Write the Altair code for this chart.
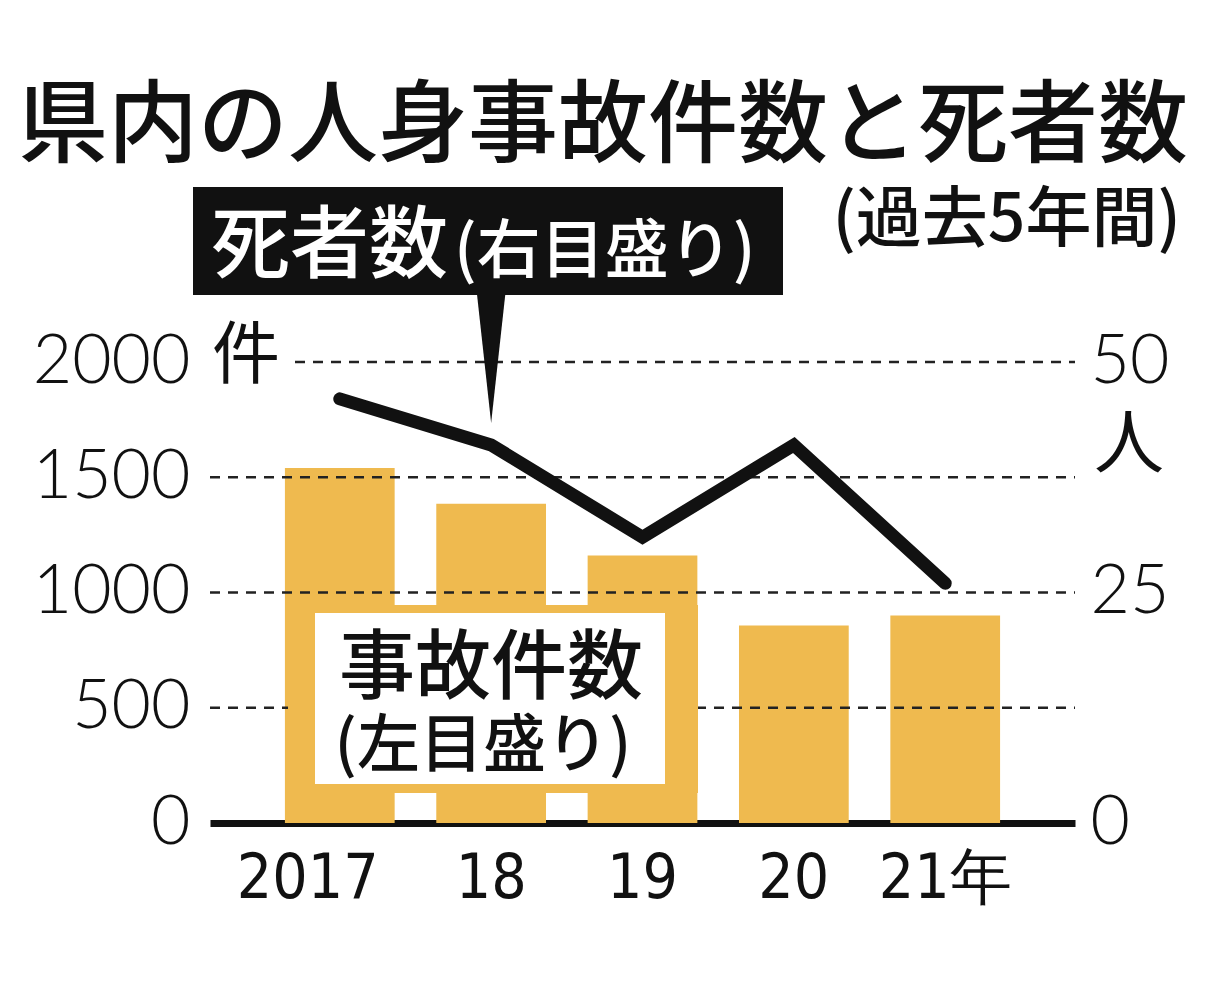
import altair as alt
import pandas as pd

# 県内の人身事故件数 (bars, left scale) and 死者数 (line, right scale)
years = ["2017", "18", "19", "20", "21年"]
accidents = [1540, 1385, 1160, 857, 900]
deaths = [46, 41, 31, 41, 26]
left_ticks = [0, 500, 1000, 1500, 2000]
right_ticks = [0, 25, 50]

df = pd.DataFrame({"year": years, "accidents": accidents, "deaths": deaths})

W, H = 865, 461
BAR = "#EFBA4F"
INK = "#111111"
JP = "Noto Sans CJK JP"
NUM = "Lato"
one = pd.DataFrame({"k": [0]})

x = alt.X("year:N", sort=None, title=None,
          scale=alt.Scale(paddingInner=0.275, paddingOuter=0.495),
          axis=alt.Axis(labelFont="DejaVu Sans Condensed, Liberation Sans", labelFontSize=62, labelColor=INK,
                        labelAngle=0, labelPadding=25, labelBaseline="top", ticks=False,
                        domainColor=INK, domainWidth=7,
                        labelOffset={"condition": {"test": "datum.value === '2017'", "value": -32}, "value": 0}))

left_scale = alt.Scale(domain=[0, 2000], nice=False)
left_axis = alt.Axis(values=left_ticks, format="d", grid=False, domain=False, ticks=False,
                     labelFont=NUM, labelFontWeight=300, labelFontSize=68, labelColor=INK,
                     labelPadding=20, labelFlush=False, labelOverlap=False, labelBound=False)

bars = alt.Chart(df).mark_bar(color=BAR).encode(
    x=x,
    y=alt.Y("accidents:Q", scale=left_scale, title=None, axis=left_axis),
)

dash = dict(color="#222222", strokeWidth=2.5, strokeDash=[10, 8])
grid = alt.Chart(pd.DataFrame({"accidents": left_ticks[1:-1]})).mark_rule(**dash).encode(
    y=alt.Y("accidents:Q", scale=left_scale, title=None, axis=left_axis),
    x=alt.value(0), x2=alt.value(W))
grid_top = alt.Chart(pd.DataFrame({"accidents": left_ticks[-1:]})).mark_rule(**dash).encode(
    y=alt.Y("accidents:Q", scale=left_scale, title=None, axis=left_axis),
    x=alt.value(85), x2=alt.value(W))

unit_left = alt.Chart(one).mark_text(text="件", font=JP, fontSize=68, color=INK,
                                     align="left", baseline="alphabetic").encode(
    x=alt.value(2), y=alt.value(16))

frame = alt.Chart(one).mark_rect(color=BAR).encode(
    x=alt.value(78), x2=alt.value(488), y=alt.value(243), y2=alt.value(431))
white_box = alt.Chart(one).mark_rect(color="white").encode(
    x=alt.value(105), x2=alt.value(455), y=alt.value(251), y2=alt.value(422))
bar_label1 = alt.Chart(one).mark_text(text="事故件数", font=JP, fontSize=76, fontWeight=500,
                                      color=INK, align="center", baseline="alphabetic").encode(
    x=alt.value(281), y=alt.value(331))
bar_label2 = alt.Chart(one).mark_text(text="(左目盛り)", font=JP, fontSize=63, fontWeight=500,
                                      color=INK, align="center", baseline="alphabetic").encode(
    x=alt.value(273), y=alt.value(404))

left = alt.layer(bars, grid, grid_top, unit_left, frame, white_box, bar_label1, bar_label2)

line = alt.Chart(df).mark_line(color=INK, strokeWidth=13, strokeCap="round", strokeJoin="miter").encode(
    x=x,
    y=alt.Y("deaths:Q", scale=alt.Scale(domain=[0, 50], nice=False), title=None,
            axis=alt.Axis(orient="right", values=right_ticks, grid=False, domain=False, ticks=False,
                          labelFont=NUM, labelFontWeight=300, labelFontSize=68, labelColor=INK,
                          labelPadding=15, labelFlush=False, labelOverlap=False, labelBound=False)),
)
unit_right = alt.Chart(one).mark_text(text="人", font=JP, fontSize=70, color=INK,
                                      align="left", baseline="alphabetic").encode(
    x=alt.value(884), y=alt.value(106))

right = alt.layer(line, unit_right)

# callout for the line
callout_box = alt.Chart(one).mark_rect(color=INK).encode(
    x=alt.value(-17), x2=alt.value(573), y=alt.value(-175), y2=alt.value(-67))
pointer = alt.Chart(df).transform_filter(alt.datum.year == "18").mark_point(
    shape="M-0.22,-1 L0.22,-1 L0,1 Z", size=16384, filled=True, color=INK, opacity=1, strokeWidth=0
).encode(x=x, y=alt.value(-3))
line_label1 = alt.Chart(one).mark_text(text="死者数", font=JP, fontSize=79, fontWeight=500,
                                       color="white", align="left", baseline="alphabetic").encode(
    x=alt.value(1), y=alt.value(-90))
line_label2 = alt.Chart(one).mark_text(text="(右目盛り)", font=JP, fontSize=64, fontWeight=500,
                                       color="white", align="left", baseline="alphabetic").encode(
    x=alt.value(244), y=alt.value(-90))

title = alt.Chart(one).mark_text(text="県内の人身事故件数と死者数", font=JP, fontSize=90, fontWeight=500,
                                 color=INK, align="left", baseline="alphabetic").encode(
    x=alt.value(-192), y=alt.value(-207))
subtitle = alt.Chart(one).mark_text(text="(過去5年間)", font=JP, fontSize=66, fontWeight=500,
                                    color=INK, align="right", baseline="alphabetic").encode(
    x=alt.value(971), y=alt.value(-121))

callout = alt.layer(callout_box, pointer, line_label1, line_label2, title, subtitle)

chart = alt.layer(left, right, callout).resolve_scale(y="independent").properties(
    width=W, height=H,
    autosize=alt.AutoSizeParams(type="none"),
    padding={"left": 202, "top": 354, "right": 125, "bottom": 150},
    background="white",
).configure_view(stroke=None)

chart.save("out.html", embed_options={"renderer": "svg", "actions": False})
